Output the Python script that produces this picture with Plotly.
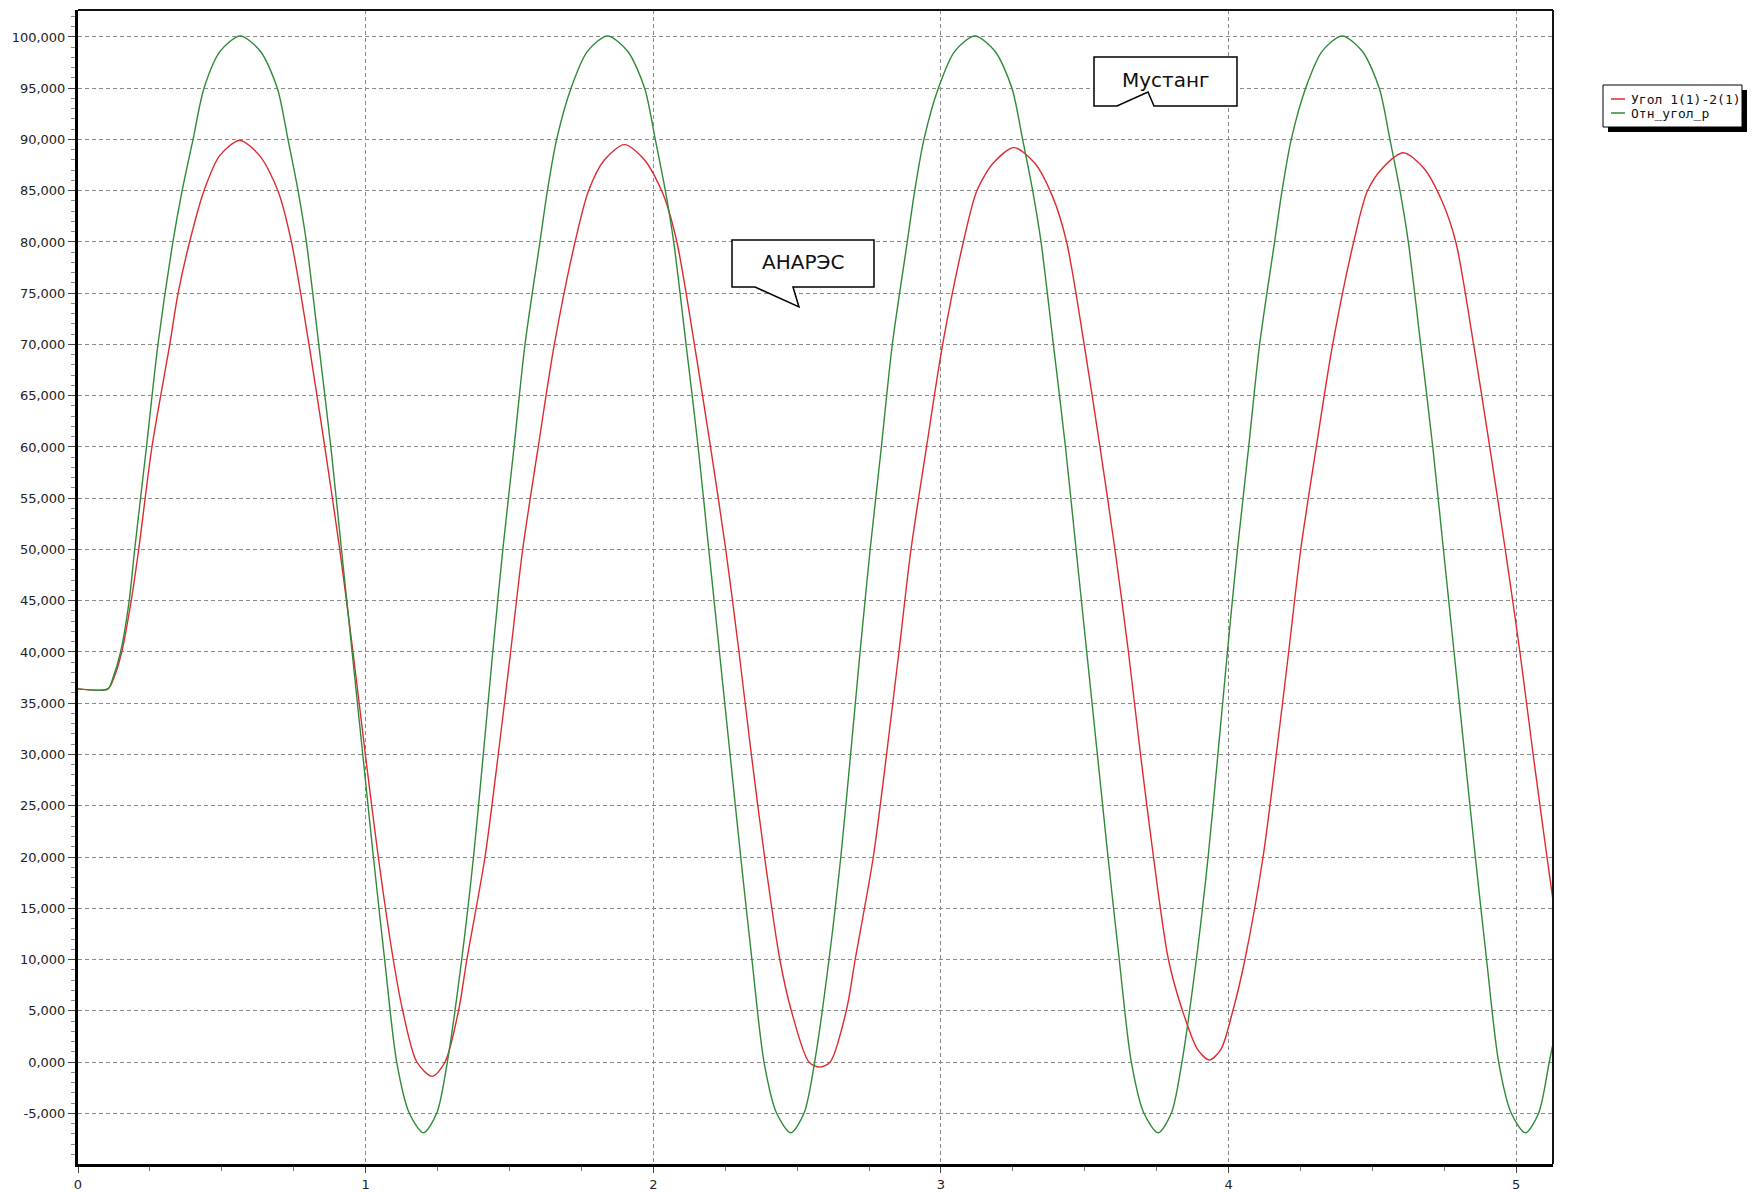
import plotly.graph_objects as go

# ---------------- data ----------------
series_names = ["Угол 1(1)-2(1)", "Отн_угол_р"]

t_red = [0, 0.104, 0.125, 0.152, 0.185, 0.211, 0.257, 0.319, 0.348, 0.388, 0.438, 0.492, 0.562,
         0.632, 0.695, 0.742, 0.803, 0.858, 0.910, 0.956, 0.999, 1.044, 1.096, 1.129, 1.178, 1.232,
         1.276, 1.323, 1.352, 1.415, 1.461, 1.504, 1.546, 1.600, 1.656, 1.728, 1.775, 1.830, 1.900,
         1.970, 2.035, 2.082, 2.143, 2.199, 2.252, 2.298, 2.341, 2.387, 2.440, 2.480, 2.541, 2.578,
         2.615, 2.671, 2.702, 2.765, 2.811, 2.854, 2.896, 2.950, 3.006, 3.078, 3.125, 3.182, 3.254,
         3.326, 3.390, 3.437, 3.498, 3.553, 3.605, 3.652, 3.694, 3.739, 3.791, 3.840, 3.893, 3.933,
         3.973, 4.015, 4.057, 4.120, 4.166, 4.209, 4.251, 4.305, 4.362, 4.435, 4.483, 4.538, 4.608,
         4.679, 4.742, 4.790, 4.852, 4.908, 4.962, 5.013, 5.059, 5.107, 5.128]
v_red = [36.4, 36.4, 37.5, 40, 45, 50, 60, 70, 75, 80, 85, 88.4, 89.9,
         88.4, 85, 80, 70, 60, 50, 40, 30, 20, 10, 5, 0, -1.4,
         0, 5, 10, 20, 30, 40, 50, 60, 70, 80, 85, 88.0, 89.5,
         88.0, 84.6, 80, 70, 60, 50, 40, 30, 20, 10, 5, 0, -0.5,
         0, 5, 10, 20, 30, 40, 50, 60, 70, 80, 85, 87.7, 89.2,
         87.7, 84.3, 80, 70, 60, 50, 40, 30, 20, 10, 5, 1.2, 0.2,
         1.2, 5, 10, 20, 30, 40, 50, 60, 70, 80, 85, 87.3, 88.7,
         87.2, 84, 80, 70, 60, 50, 40, 30, 20, 15.8]

t_green = [0, 0.104, 0.122, 0.148, 0.178, 0.197, 0.238, 0.278, 0.330, 0.362, 0.400, 0.438, 0.494, 0.564,
           0.634, 0.693, 0.730, 0.765, 0.794, 0.837, 0.879, 0.916, 0.953, 0.990, 1.027, 1.066, 1.108, 1.152, 1.201,
           1.247, 1.284, 1.334, 1.375, 1.409, 1.442, 1.477, 1.516, 1.554, 1.606, 1.632, 1.664, 1.714, 1.771, 1.841,
           1.911, 1.970, 2.007, 2.042, 2.071, 2.114, 2.156, 2.193, 2.230, 2.267, 2.304, 2.343, 2.385, 2.429, 2.478,
           2.524, 2.561, 2.611, 2.652, 2.686, 2.719, 2.754, 2.793, 2.831, 2.883, 2.909, 2.941, 2.991, 3.048, 3.118,
           3.188, 3.247, 3.284, 3.319, 3.348, 3.391, 3.433, 3.470, 3.507, 3.544, 3.581, 3.620, 3.662, 3.706, 3.755,
           3.801, 3.838, 3.888, 3.929, 3.963, 3.996, 4.031, 4.070, 4.108, 4.160, 4.186, 4.218, 4.268, 4.325, 4.395,
           4.465, 4.524, 4.561, 4.596, 4.625, 4.668, 4.710, 4.747, 4.784, 4.821, 4.858, 4.897, 4.939, 4.983, 5.032,
           5.078, 5.115, 5.128]
v_green = [36.4, 36.4, 37.5, 40, 45, 50, 60, 70, 80, 85, 90, 95, 98.6, 100.1,
           98.6, 95, 90, 85, 80, 70, 60, 50, 40, 30, 20, 10, 0, -5, -6.9,
           -5, 0, 10, 20, 30, 40, 50, 60, 70, 80, 85, 90, 95, 98.6, 100.1,
           98.6, 95, 90, 85, 80, 70, 60, 50, 40, 30, 20, 10, 0, -5, -6.9,
           -5, 0, 10, 20, 30, 40, 50, 60, 70, 80, 85, 90, 95, 98.6, 100.1,
           98.6, 95, 90, 85, 80, 70, 60, 50, 40, 30, 20, 10, 0, -5, -6.9,
           -5, 0, 10, 20, 30, 40, 50, 60, 70, 80, 85, 90, 95, 98.6, 100.1,
           98.6, 95, 90, 85, 80, 70, 60, 50, 40, 30, 20, 10, 0, -5, -6.9,
           -5, 0, 1.8]

y_tick_vals = [-5, 0, 5, 10, 15, 20, 25, 30, 35, 40, 45, 50, 55, 60, 65, 70, 75, 80, 85, 90, 95, 100]
y_tick_text = ["-5,000", "0,000", "5,000", "10,000", "15,000", "20,000", "25,000", "30,000",
               "35,000", "40,000", "45,000", "50,000", "55,000", "60,000", "65,000", "70,000",
               "75,000", "80,000", "85,000", "90,000", "95,000", "100,000"]
x_tick_vals = [0, 1, 2, 3, 4, 5]
x_tick_text = ["0", "1", "2", "3", "4", "5"]

callout_texts = ["Мустанг", "АНАРЭС"]

# ---------------- layout geometry ----------------
W, H = 1759, 1192
L, R, T, B = 78, 206, 10, 28
PW, PH = W - L - R, H - T - B


def px(x):
    return (x - L) / PW


def py(y):
    return (H - B - y) / PH


RED = "#de2a2e"
GREEN = "#2f8a38"
colors = [RED, GREEN]

fig = go.Figure()
fig.add_trace(go.Scatter(x=t_red, y=v_red, mode="lines", name=series_names[0],
                         line=dict(color=RED, width=1.4, shape="spline", smoothing=0.8)))
fig.add_trace(go.Scatter(x=t_green, y=v_green, mode="lines", name=series_names[1],
                         line=dict(color=GREEN, width=1.4, shape="spline", smoothing=0.8)))

shapes = []
# frame: top and right thin lines
shapes.append(dict(type="line", xref="paper", yref="paper", x0=0, x1=1, y0=1, y1=1,
                   line=dict(color="#111", width=2), layer="above"))
shapes.append(dict(type="line", xref="paper", yref="paper", x0=1, x1=1, y0=0, y1=1,
                   line=dict(color="#111", width=2), layer="above"))

# legend box with drop shadow (drawn by hand to match the original's compact legend)
shapes.append(dict(type="rect", xref="paper", yref="paper",
                   x0=px(1608), x1=px(1747), y0=py(132), y1=py(90),
                   fillcolor="black", line=dict(width=0), layer="above"))
shapes.append(dict(type="rect", xref="paper", yref="paper",
                   x0=px(1603), x1=px(1742), y0=py(127), y1=py(85),
                   fillcolor="white", line=dict(color="black", width=1), layer="above"))
legend_rows_y = [99, 113]
for c, yy in zip(colors, legend_rows_y):
    shapes.append(dict(type="line", xref="paper", yref="paper",
                       x0=px(1611), x1=px(1625), y0=py(yy), y1=py(yy),
                       line=dict(color=c, width=1.5), layer="above"))


def callout_path(pts):
    return "M " + " L ".join(f"{px(x):.5f},{py(y):.5f}" for x, y in pts) + " Z"


must_pts = [(1094, 57), (1237, 57), (1237, 106), (1154, 106), (1148, 92), (1117, 106), (1094, 106)]
anar_pts = [(732, 240), (874, 240), (874, 287), (793, 287), (799, 307), (755, 287), (732, 287)]
for pts in (must_pts, anar_pts):
    shapes.append(dict(type="path", xref="paper", yref="paper", path=callout_path(pts),
                       fillcolor="white", line=dict(color="black", width=1.5), layer="above"))

annotations = [
    dict(text=callout_texts[0], xref="paper", yref="paper", x=px(1166), y=py(80),
         xanchor="center", yanchor="middle",
         showarrow=False, font=dict(family="DejaVu Sans", size=20, color="#111")),
    dict(text=callout_texts[1], xref="paper", yref="paper", x=px(803), y=py(262),
         xanchor="center", yanchor="middle",
         showarrow=False, font=dict(family="DejaVu Sans", size=20, color="#111")),
]
for name, yy in zip(series_names, legend_rows_y):
    annotations.append(dict(text=name, xref="paper", yref="paper", x=px(1629), y=py(yy),
                            xanchor="left", yanchor="middle", showarrow=False,
                            font=dict(family="DejaVu Sans Mono", size=13, color="#111")))

grid = dict(gridcolor="#8a8a8a", gridwidth=1, griddash="4px,3px")

fig.update_layout(
    width=W, height=H,
    margin=dict(l=L, r=R, t=T, b=B, pad=0, autoexpand=False),
    paper_bgcolor="white", plot_bgcolor="white",
    font=dict(family="DejaVu Sans", size=13, color="#222"),
    shapes=shapes, annotations=annotations,
    showlegend=False,
    xaxis=dict(range=[0, 5.128], tickvals=x_tick_vals, ticktext=x_tick_text,
               automargin=False,
               showline=True, linecolor="black", linewidth=3,
               ticks="outside", ticklen=6, tickcolor="#444", tickwidth=1,
               showgrid=True, zeroline=False,
               minor=dict(dtick=0.25, ticks="outside", ticklen=4, tickcolor="#777", showgrid=False),
               **grid),
    yaxis=dict(range=[-9.95, 102.63], tickvals=y_tick_vals, ticktext=y_tick_text,
               automargin=False,
               showline=True, linecolor="black", linewidth=3,
               ticks="outside", ticklen=7, tickcolor="#444", tickwidth=1,
               showgrid=True, zeroline=False,
               minor=dict(dtick=1, ticks="outside", ticklen=4, tickcolor="#888", showgrid=False),
               **grid),
)

fig.write_html("out.html")
